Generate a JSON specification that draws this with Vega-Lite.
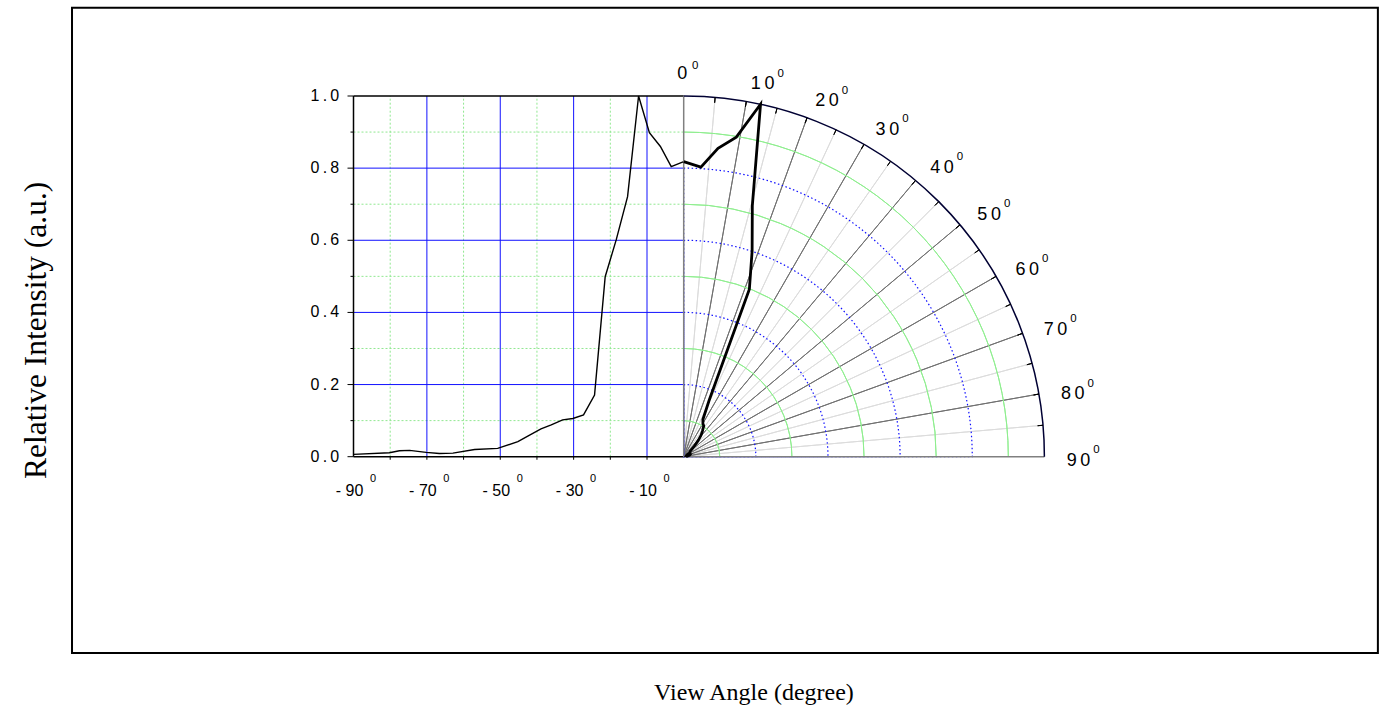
{
  "$schema": "https://vega.github.io/schema/vega-lite/v6.json",
  "padding": {"left": 3, "top": 6.7, "right": 4.3, "bottom": -6},
  "autosize": {"type": "pad"},
  "background": "white",
  "config": {
    "view": {"stroke": "black", "strokeWidth": 2},
    "font": "Liberation Sans"
  },
  "datasets": {
    "profile": [
      {"angle": -90, "value": 0.0065},
      {"angle": -80.2, "value": 0.011},
      {"angle": -77.5, "value": 0.0165},
      {"angle": -74.7, "value": 0.0175},
      {"angle": -70.2, "value": 0.012},
      {"angle": -66.6, "value": 0.009},
      {"angle": -62.9, "value": 0.010},
      {"angle": -57, "value": 0.020},
      {"angle": -50.7, "value": 0.023},
      {"angle": -45.2, "value": 0.042},
      {"angle": -42, "value": 0.060},
      {"angle": -38.9, "value": 0.077},
      {"angle": -36.1, "value": 0.088},
      {"angle": -33, "value": 0.102},
      {"angle": -30.2, "value": 0.106},
      {"angle": -27.3, "value": 0.116},
      {"angle": -24.3, "value": 0.171},
      {"angle": -21.4, "value": 0.499},
      {"angle": -18.4, "value": 0.601},
      {"angle": -15.3, "value": 0.721},
      {"angle": -12.3, "value": 1.0},
      {"angle": -9.35, "value": 0.898},
      {"angle": -6.35, "value": 0.860},
      {"angle": -3.4, "value": 0.804},
      {"angle": 0, "value": 0.818}
    ],
    "vminor": [{"a": -80}, {"a": -60}, {"a": -40}, {"a": -20}],
    "vmajor": [{"a": -70}, {"a": -50}, {"a": -30}, {"a": -10}],
    "hminor": [{"v": 0.1}, {"v": 0.3}, {"v": 0.5}, {"v": 0.7}, {"v": 0.9}],
    "hmajor": [{"v": 0.2}, {"v": 0.4}, {"v": 0.6}, {"v": 0.8}],
    "ylabels": [{"v": 0}, {"v": 0.2}, {"v": 0.4}, {"v": 0.6}, {"v": 0.8}, {"v": 1.0}],
    "spokeLight": [{"a": 5}, {"a": 15}, {"a": 25}, {"a": 35}, {"a": 45}, {"a": 55}, {"a": 65}, {"a": 75}, {"a": 85}],
    "spokeDark": [{"a": 10}, {"a": 20}, {"a": 30}, {"a": 40}, {"a": 50}, {"a": 60}, {"a": 70}, {"a": 80}],
    "spokeAxis": [{"a": 0}, {"a": 90}],
    "tick5": [{"a": 5}, {"a": 10}, {"a": 15}, {"a": 20}, {"a": 25}, {"a": 30}, {"a": 35}, {"a": 40}, {"a": 45}, {"a": 50}, {"a": 55}, {"a": 60}, {"a": 65}, {"a": 70}, {"a": 75}, {"a": 80}, {"a": 85}],
    "plabels2": [{"a": 10}, {"a": 20}, {"a": 30}, {"a": 40}, {"a": 50}, {"a": 60}, {"a": 70}, {"a": 80}, {"a": 90}],
    "plabels0": [{"a": 0}],
    "xlabels": [{"a": -90}, {"a": -70}, {"a": -50}, {"a": -30}, {"a": -10}],
    "one": [{"k": 1}]
  },
  "columns": 2,
  "spacing": 0,
  "bounds": "flush",
  "concat": [
    {
      "data": {"values": [{"label": "Relative Intensity (a.u.)"}]},
      "width": 68.8,
      "height": 645.3,
      "mark": {"type": "text", "angle": 270, "font": "Liberation Serif", "fontSize": 31.5, "color": "black"},
      "encoding": {"text": {"field": "label", "type": "nominal"}}
    },
    {
      "width": 1305.9,
      "height": 645.3,
      "resolve": {"scale": {"x": "independent"}, "axis": {"x": "independent"}},
      "layer": [
        {
          "layer": [
            {
              "data": {"name": "vminor"},
              "mark": {"type": "rule", "color": "#90e890", "strokeDash": [2, 2], "strokeWidth": 1},
              "encoding": {
                "x": {"field": "a", "type": "quantitative", "scale": {"domain": [-90, 0], "range": [281.5, 611.7]}, "axis": null},
                "y": {"datum": 0, "type": "quantitative", "scale": {"domain": [0, 1], "range": [449, 88.3]}, "axis": null},
                "y2": {"datum": 1}
              }
            },
            {
              "data": {"name": "hminor"},
              "mark": {"type": "rule", "color": "#90e890", "strokeDash": [2, 2], "strokeWidth": 1},
              "encoding": {
                "y": {"field": "v", "type": "quantitative", "axis": null},
                "x": {"datum": -90, "type": "quantitative", "axis": null},
                "x2": {"datum": 0}
              }
            },
            {
              "data": {"name": "vmajor"},
              "mark": {"type": "rule", "color": "#1010ff", "strokeWidth": 1},
              "encoding": {
                "x": {"field": "a", "type": "quantitative", "axis": null},
                "y": {"datum": 0, "type": "quantitative", "axis": null},
                "y2": {"datum": 1}
              }
            },
            {
              "data": {"name": "hmajor"},
              "mark": {"type": "rule", "color": "#1010ff", "strokeWidth": 1},
              "encoding": {
                "y": {"field": "v", "type": "quantitative", "axis": null},
                "x": {"datum": -90, "type": "quantitative", "axis": null},
                "x2": {"datum": 0}
              }
            },
            {
              "data": {"name": "one"},
              "mark": {"type": "rule", "color": "black", "strokeWidth": 1.5},
              "encoding": {
                "y": {"datum": 1, "type": "quantitative", "axis": null},
                "x": {"datum": -90, "type": "quantitative", "axis": null},
                "x2": {"datum": 0}
              }
            },
            {
              "data": {"name": "one"},
              "mark": {"type": "rule", "color": "black", "strokeWidth": 1.5},
              "encoding": {
                "y": {"datum": 0, "type": "quantitative", "axis": null},
                "x": {"datum": -90, "type": "quantitative", "axis": null},
                "x2": {"datum": 0}
              }
            },
            {
              "data": {"name": "one"},
              "mark": {"type": "rule", "color": "black", "strokeWidth": 1.5},
              "encoding": {
                "x": {"datum": -90, "type": "quantitative", "axis": null},
                "y": {"datum": 0, "type": "quantitative", "axis": null},
                "y2": {"datum": 1}
              }
            },
            {
              "data": {"name": "ylabels"},
              "mark": {"type": "tick", "orient": "horizontal", "size": 6, "thickness": 1, "color": "black", "xOffset": -3, "opacity": 1},
              "encoding": {
                "x": {"datum": -90, "type": "quantitative", "axis": null},
                "y": {"field": "v", "type": "quantitative", "axis": null}
              }
            },
            {
              "data": {"name": "hminor"},
              "mark": {"type": "tick", "orient": "horizontal", "size": 3, "thickness": 1, "color": "black", "xOffset": -1.5, "opacity": 1},
              "encoding": {
                "x": {"datum": -90, "type": "quantitative", "axis": null},
                "y": {"field": "v", "type": "quantitative", "axis": null}
              }
            },
            {
              "data": {"name": "vminor"},
              "mark": {"type": "tick", "orient": "vertical", "size": 3, "thickness": 1, "color": "black", "yOffset": 1.5, "opacity": 1},
              "encoding": {
                "x": {"field": "a", "type": "quantitative", "axis": null},
                "y": {"datum": 0, "type": "quantitative", "axis": null}
              }
            },
            {
              "data": {"name": "vmajor"},
              "mark": {"type": "tick", "orient": "vertical", "size": 3, "thickness": 1, "color": "black", "yOffset": 1.5, "opacity": 1},
              "encoding": {
                "x": {"field": "a", "type": "quantitative", "axis": null},
                "y": {"datum": 0, "type": "quantitative", "axis": null}
              }
            },
            {
              "data": {"name": "ylabels"},
              "transform": [{"calculate": "replace(format(datum.v, '.1f'), '.', '\u2009.\u2009')", "as": "lab"}],
              "mark": {"type": "text", "align": "right", "baseline": "middle", "dx": -14.3, "fontSize": 16, "color": "black", "font": "Liberation Sans"},
              "encoding": {
                "x": {"datum": -90, "type": "quantitative", "axis": null},
                "y": {"field": "v", "type": "quantitative", "axis": null},
                "text": {"field": "lab", "type": "nominal"}
              }
            },
            {
              "data": {"name": "xlabels"},
              "transform": [{"calculate": "'- ' + abs(datum.a)", "as": "lab"}],
              "mark": {"type": "text", "align": "center", "baseline": "middle", "dx": -4, "dy": 34.3, "fontSize": 16, "color": "black", "font": "Liberation Sans"},
              "encoding": {
                "x": {"field": "a", "type": "quantitative", "axis": null},
                "y": {"datum": 0, "type": "quantitative", "axis": null},
                "text": {"field": "lab", "type": "nominal"}
              }
            },
            {
              "data": {"name": "xlabels"},
              "mark": {"type": "text", "fontSize": 11, "color": "black", "dx": 19.5, "dy": 22.3, "font": "Liberation Sans", "align": "center", "baseline": "middle"},
              "encoding": {
                "x": {"field": "a", "type": "quantitative", "axis": null},
                "y": {"datum": 0, "type": "quantitative", "axis": null},
                "text": {"value": "0"}
              }
            },
            {
              "data": {"name": "profile"},
              "mark": {"type": "line", "color": "black", "strokeWidth": 1.4},
              "encoding": {
                "x": {"field": "angle", "type": "quantitative", "axis": null},
                "y": {"field": "value", "type": "quantitative", "axis": null},
                "order": {"field": "angle", "type": "quantitative"}
              }
            }
          ]
        },
        {
          "layer": [
            {
              "data": {"name": "spokeLight"},
              "mark": {"type": "arc", "filled": false, "stroke": "#dcdcdc", "strokeWidth": 1},
              "encoding": {
                "x": {"datum": 0, "type": "quantitative", "scale": {"domain": [0, 1], "range": [611.7, 972.4]}, "axis": null},
                "y": {"datum": 0, "type": "quantitative", "axis": null},
                "theta": {"field": "a", "type": "quantitative", "stack": null, "scale": {"domain": [0, 360], "range": [0, 6.283185307179586]}},
                "theta2": {"field": "a"},
                "radius": {"datum": 1, "type": "quantitative", "stack": null, "scale": {"type": "linear", "domain": [0, 1], "range": [0, 360.7], "zero": true}}
              }
            },
            {
              "data": {"name": "spokeDark"},
              "mark": {"type": "arc", "filled": false, "stroke": "#707070", "strokeWidth": 1},
              "encoding": {
                "x": {"datum": 0, "type": "quantitative", "axis": null},
                "y": {"datum": 0, "type": "quantitative", "axis": null},
                "theta": {"field": "a", "type": "quantitative", "stack": null},
                "theta2": {"field": "a"},
                "radius": {"datum": 1, "type": "quantitative", "stack": null}
              }
            },
            {
              "data": {"name": "hminor"},
              "mark": {"type": "arc", "filled": false, "stroke": "#90ee90", "strokeWidth": 1},
              "encoding": {
                "x": {"datum": 0, "type": "quantitative", "axis": null},
                "y": {"datum": 0, "type": "quantitative", "axis": null},
                "theta": {"datum": 0, "type": "quantitative", "stack": null},
                "theta2": {"datum": 90},
                "radius": {"field": "v", "type": "quantitative", "stack": null},
                "radius2": {"field": "v"}
              }
            },
            {
              "data": {"name": "hmajor"},
              "mark": {"type": "arc", "filled": false, "stroke": "#1010ff", "strokeWidth": 1.2, "strokeDash": [1.5, 2.5]},
              "encoding": {
                "x": {"datum": 0, "type": "quantitative", "axis": null},
                "y": {"datum": 0, "type": "quantitative", "axis": null},
                "theta": {"datum": 0, "type": "quantitative", "stack": null},
                "theta2": {"datum": 90},
                "radius": {"field": "v", "type": "quantitative", "stack": null}
              }
            },
            {
              "data": {"name": "spokeAxis"},
              "mark": {"type": "arc", "filled": false, "stroke": "#808080", "strokeWidth": 1.5},
              "encoding": {
                "x": {"datum": 0, "type": "quantitative", "axis": null},
                "y": {"datum": 0, "type": "quantitative", "axis": null},
                "theta": {"field": "a", "type": "quantitative", "stack": null},
                "theta2": {"field": "a"},
                "radius": {"datum": 1, "type": "quantitative", "stack": null}
              }
            },
            {
              "data": {"name": "one"},
              "mark": {"type": "arc", "filled": false, "stroke": "#000033", "strokeWidth": 1.5},
              "encoding": {
                "x": {"datum": 0, "type": "quantitative", "axis": null},
                "y": {"datum": 0, "type": "quantitative", "axis": null},
                "theta": {"datum": 0, "type": "quantitative", "stack": null},
                "theta2": {"datum": 90},
                "radius": {"datum": 1, "type": "quantitative", "stack": null},
                "radius2": {"datum": 1}
              }
            },
            {
              "data": {"name": "tick5"},
              "mark": {"type": "arc", "filled": false, "stroke": "black", "strokeWidth": 1},
              "encoding": {
                "x": {"datum": 0, "type": "quantitative", "axis": null},
                "y": {"datum": 0, "type": "quantitative", "axis": null},
                "theta": {"field": "a", "type": "quantitative", "stack": null},
                "theta2": {"field": "a"},
                "radius": {"datum": 1, "type": "quantitative", "stack": null},
                "radius2": {"datum": 0.985}
              }
            },
            {
              "data": {"name": "profile"},
              "transform": [
                {"calculate": "datum.value * sin(-datum.angle * PI / 180)", "as": "px"},
                {"calculate": "datum.value * cos(-datum.angle * PI / 180)", "as": "py"}
              ],
              "mark": {"type": "line", "color": "black", "strokeWidth": 2.8},
              "encoding": {
                "x": {"field": "px", "type": "quantitative", "axis": null},
                "y": {"field": "py", "type": "quantitative", "axis": null},
                "order": {"field": "angle", "type": "quantitative"}
              }
            },
            {
              "data": {"name": "plabels2"},
              "transform": [{"calculate": "join(split(toString(datum.a), ''), '\u2009')", "as": "lab"}],
              "mark": {"type": "text", "fontSize": 18, "color": "black", "font": "Liberation Sans", "align": "center", "baseline": "middle", "dx": 12.5, "dy": 4},
              "encoding": {
                "x": {"datum": 0, "type": "quantitative", "axis": null},
                "y": {"datum": 0, "type": "quantitative", "axis": null},
                "theta": {"field": "a", "type": "quantitative", "stack": null},
                "radius": {"datum": 1.06, "type": "quantitative", "stack": null},
                "text": {"field": "lab", "type": "nominal"}
              }
            },
            {
              "data": {"name": "plabels2"},
              "mark": {"type": "text", "fontSize": 11.5, "color": "black", "font": "Liberation Sans", "align": "center", "baseline": "middle", "dx": 30.5, "dy": -6.5},
              "encoding": {
                "x": {"datum": 0, "type": "quantitative", "axis": null},
                "y": {"datum": 0, "type": "quantitative", "axis": null},
                "theta": {"field": "a", "type": "quantitative", "stack": null},
                "radius": {"datum": 1.06, "type": "quantitative", "stack": null},
                "text": {"value": "0"}
              }
            },
            {
              "data": {"name": "plabels0"},
              "mark": {"type": "text", "fontSize": 18, "color": "black", "font": "Liberation Sans", "align": "center", "baseline": "middle", "dx": -1.5},
              "encoding": {
                "x": {"datum": 0, "type": "quantitative", "axis": null},
                "y": {"datum": 0, "type": "quantitative", "axis": null},
                "theta": {"field": "a", "type": "quantitative", "stack": null},
                "radius": {"datum": 1.06, "type": "quantitative", "stack": null},
                "text": {"field": "a", "type": "quantitative"}
              }
            },
            {
              "data": {"name": "plabels0"},
              "mark": {"type": "text", "fontSize": 11.5, "color": "black", "font": "Liberation Sans", "align": "center", "baseline": "middle", "dx": 11.5, "dy": -8.5},
              "encoding": {
                "x": {"datum": 0, "type": "quantitative", "axis": null},
                "y": {"datum": 0, "type": "quantitative", "axis": null},
                "theta": {"field": "a", "type": "quantitative", "stack": null},
                "radius": {"datum": 1.06, "type": "quantitative", "stack": null},
                "text": {"value": "0"}
              }
            }
          ]
        }
      ]
    },
    {
      "data": {"values": [{"label": ""}]},
      "width": 68.8,
      "height": 78,
      "mark": {"type": "text", "color": "black"},
      "encoding": {"text": {"field": "label", "type": "nominal"}}
    },
    {
      "data": {"values": [{"label": "View Angle (degree)"}]},
      "width": 1305.9,
      "height": 78,
      "mark": {"type": "text", "font": "Liberation Serif", "fontSize": 24, "color": "black", "dx": 29},
      "encoding": {"text": {"field": "label", "type": "nominal"}}
    }
  ]
}
